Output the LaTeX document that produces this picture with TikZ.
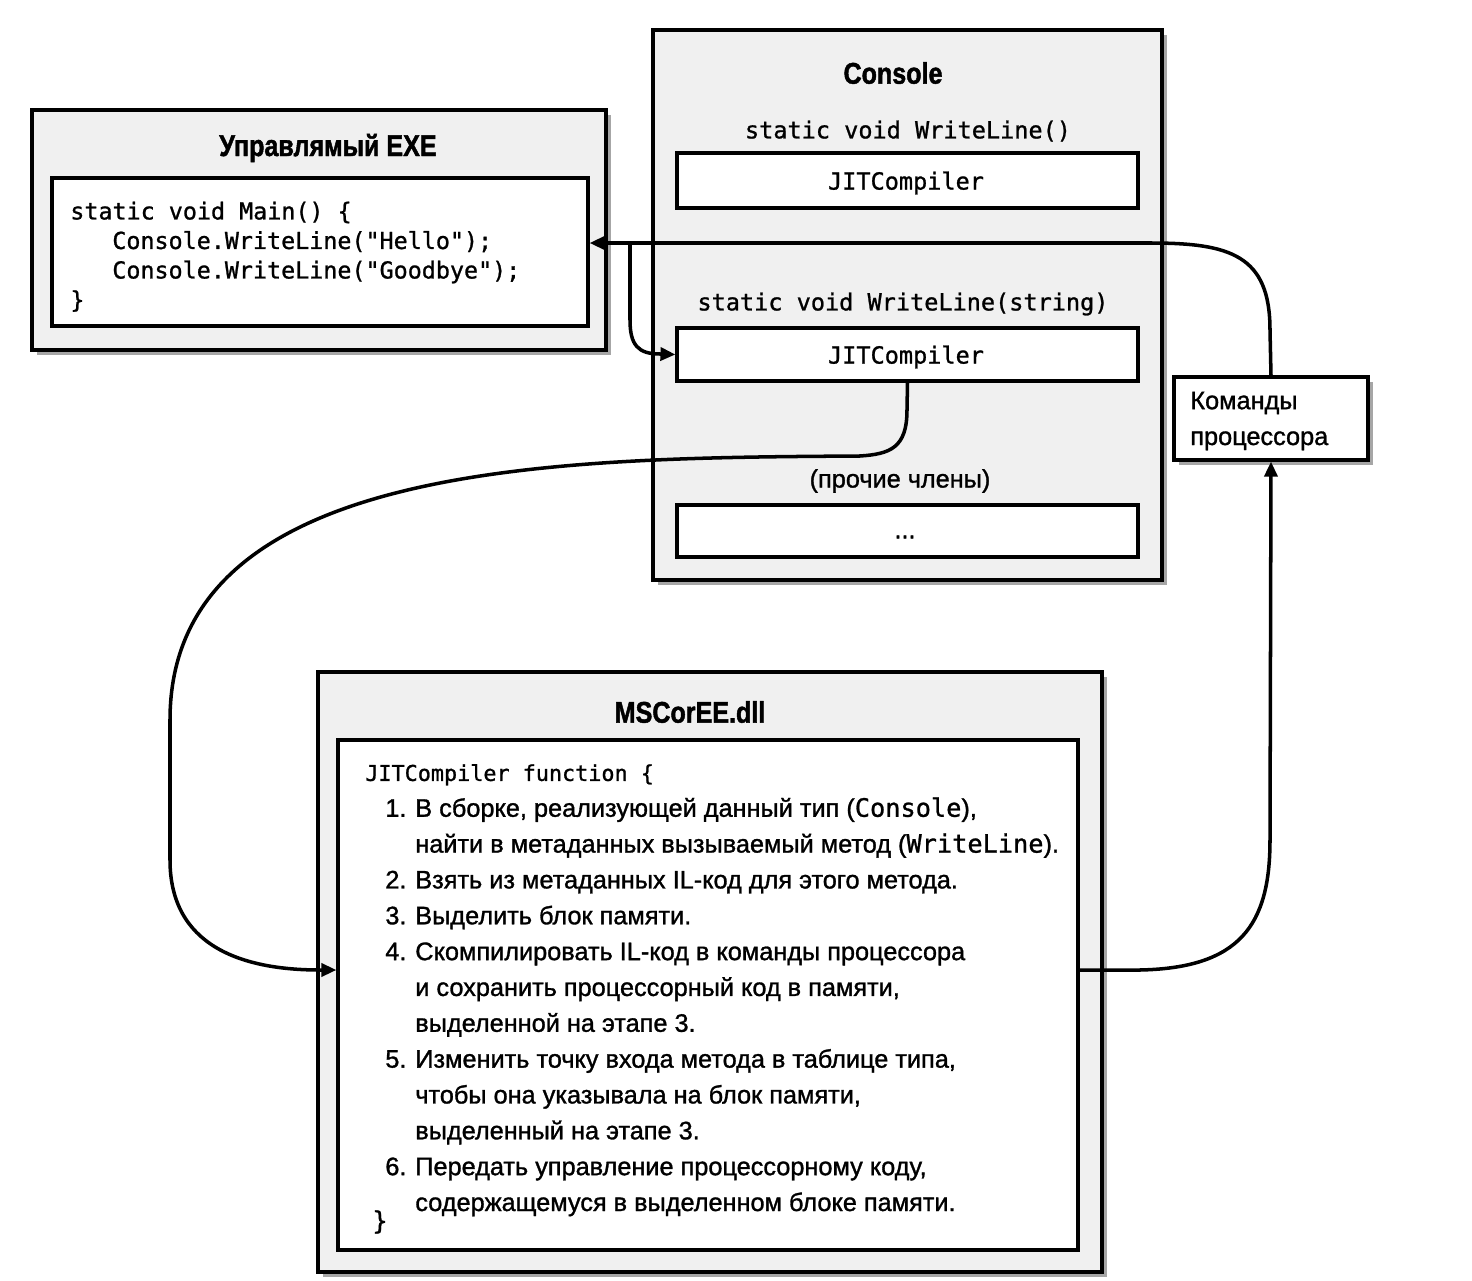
\documentclass[tikz,border=0pt]{standalone}
\usepackage{fontspec}
\setmainfont{Liberation Sans}[FakeStretch=1.0, FakeBold=1.2]
\setmonofont{DejaVu Sans Mono}[FakeBold=1.0]
\newfontfamily\titlefont{Liberation Sans Bold}[FakeStretch=0.84, FakeBold=1.5]
\usetikzlibrary{positioning,fit,arrows.meta,shadows}

\newcommand{\stepnum}[1]{\hspace*{0.4cm}\makebox[0.6cm][l]{#1}}
\newcommand{\stepcont}{\hspace*{1.0cm}}

\begin{document}
\begin{tikzpicture}[x=0.02cm, y=-0.02cm,
    outerbox/.style={draw, line width=1.8pt, fill=black!6, inner sep=0pt,
      drop shadow={shadow xshift=0.1cm, shadow yshift=-0.1cm, fill=black!35, opacity=1}},
    innerbox/.style={draw, line width=1.8pt, fill=white, inner sep=0pt},
    cmdbox/.style={draw, line width=1.8pt, fill=white, inner sep=0pt,
      drop shadow={shadow xshift=0.1cm, shadow yshift=-0.1cm, fill=black!35, opacity=1}},
    boxtitle/.style={font=\titlefont\fontsize{17pt}{20pt}\selectfont, inner sep=0pt},
    codetext/.style={font=\ttfamily\fontsize{13.3pt}{16.8pt}\selectfont, align=left, inner sep=0pt},
    sigtext/.style={font=\ttfamily\fontsize{13.4pt}{16pt}\selectfont, inner sep=0pt},
    bodytext/.style={font=\fontsize{14.4pt}{20.4pt}\selectfont, align=left, inner sep=0pt},
    conn/.style={line width=2pt, -{Triangle[length=0.3cm, width=0.26cm]}}]
    \useasboundingbox (0,0) rectangle (1472,1281);

    % Nodes
    \node[outerbox, fit={(32,110) (606,350)}] (exe) {};
    \node[boxtitle] (exetitle) at (328,148) {Управлямый EXE};
    \node[innerbox, fit={(52,178) (588,326)}] (exein) {};
    \node[codetext, anchor=base west] (maincode) at (70,308) {%
      static void Main() \{\\
      \hspace*{0.84cm}Console.WriteLine("Hello");\\
      \hspace*{0.84cm}Console.WriteLine("Goodbye");\\
      \}};

    \node[outerbox, fit={(653,30) (1162,580)}] (console) {};
    \node[boxtitle] (contitle) at (893,73) {Console};
    \node[sigtext] (sig1) at (908,131) {static void WriteLine()};
    \node[innerbox, fit={(677,153) (1138,208)}] (jit1) {};
    \node[sigtext] (jit1text) at (906,183) {JITCompiler};
    \node[sigtext] (sig2) at (903,304) {static void WriteLine(string)};
    \node[innerbox, fit={(677,328) (1138,381)}] (jit2) {};
    \node[sigtext] (jit2text) at (906,357) {JITCompiler};
    \node[bodytext] (others) at (900,481) {(прочие члены)};
    \node[innerbox, fit={(677,505) (1138,557)}] (rest) {};
    \node[bodytext] (dots) at (905,537) {...};

    \node[cmdbox, fit={(1174,377) (1368,460)}] (cmd) {};
    \node[bodytext, anchor=base west] (cmdtext) at (1190,445) {Команды\\процессора};

    \node[outerbox, fit={(318,672) (1102,1272)}] (mscoree) {};
    \node[boxtitle] (msctitle) at (690,712) {MSCorEE.dll};
    \node[innerbox, fit={(338,740) (1078,1250)}] (mscin) {};
    \node[bodytext, anchor=base west] (steps) at (365,1211) {%
      {\ttfamily\fontsize{12.4pt}{20.4pt}\selectfont JITCompiler function \{}\\
      \stepnum{1.}В сборке, реализующей данный тип (\texttt{Console}),\\
      \stepcont найти в метаданных вызываемый метод (\texttt{WriteLine}).\\
      \stepnum{2.}Взять из метаданных IL-код для этого метода.\\
      \stepnum{3.}Выделить блок памяти.\\
      \stepnum{4.}Скомпилировать IL-код в команды процессора\\
      \stepcont и сохранить процессорный код в памяти,\\
      \stepcont выделенной на этапе 3.\\
      \stepnum{5.}Изменить точку входа метода в таблице типа,\\
      \stepcont чтобы она указывала на блок памяти,\\
      \stepcont выделенный на этапе 3.\\
      \stepnum{6.}Передать управление процессорному коду,\\
      \stepcont содержащемуся в выделенном блоке памяти.};
    \node[bodytext] (close) at (380,1222) {\texttt{\}}};

    % Points on the connectors
    \coordinate (ret) at (1150,243);
    \coordinate (call) at (630,245);
    \coordinate (enter) at (320,970);
    \coordinate (leave) at (1078,970);

    % Arrows
    \draw[conn] (cmd.north) -- (1270,330) .. controls (1270,255) and (1230,243) .. (ret)
      -- (exein.east |- ret);
    \draw[conn] (call) -- (630,320) .. controls (630,345) and (638,354) .. (660,354)
      -- (jit2.west);
    \draw[conn] (jit2.south) -- (907,410) .. controls (907,448) and (890,454) .. (860,456)
      .. controls (560,458) and (170,460) .. (170,720) -- (170,860)
      .. controls (170,945) and (240,970) .. (enter) -- (mscin.west |- enter);
    \draw[conn] (leave) -- (1140,970) .. controls (1240,968) and (1270,925) .. (1270,840)
      -- (cmd.south);
\end{tikzpicture}
\end{document}
